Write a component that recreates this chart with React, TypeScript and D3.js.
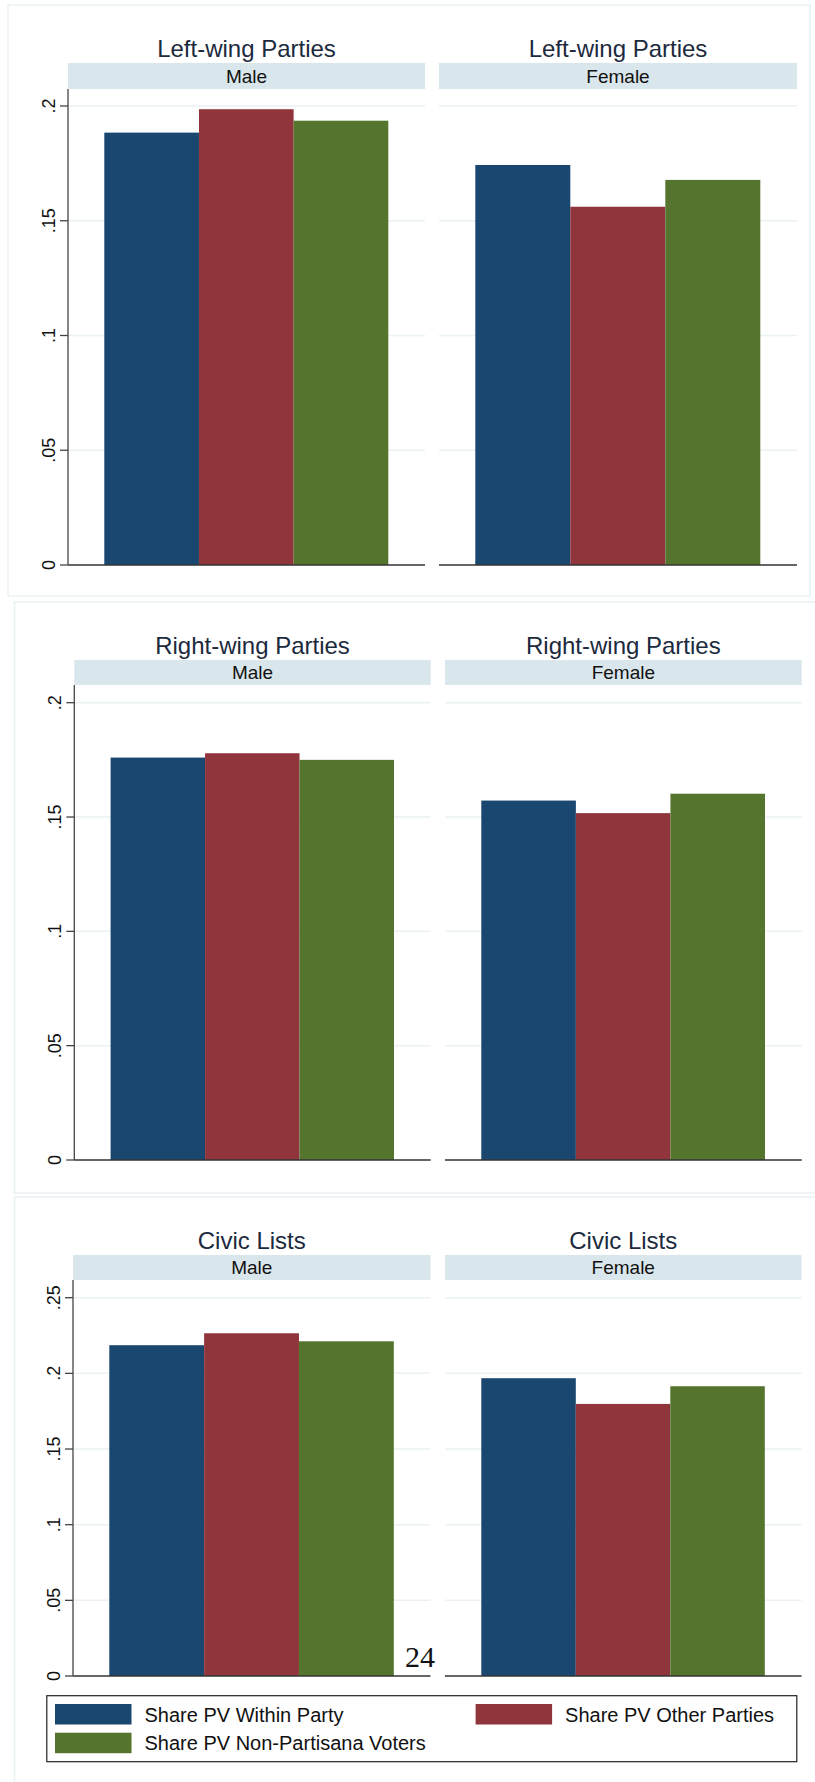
import React from "react";
import * as d3 from "d3";

// ---- data ----
const partyGroups = ["Left-wing Parties", "Right-wing Parties", "Civic Lists"];
const genders = ["Male", "Female"];
const seriesNames = [
  "Share PV Within Party",
  "Share PV Other Parties",
  "Share PV Non-Partisana Voters",
];
// order: [Left Male, Left Female, Right Male, Right Female, Civic Male, Civic Female]
const withinParty = [0.1884, 0.1743, 0.176, 0.1572, 0.2186, 0.1968];
const otherParties = [0.1986, 0.1561, 0.1779, 0.1517, 0.2265, 0.1798];
const nonPartisan = [0.1936, 0.1678, 0.175, 0.1602, 0.2212, 0.1915];
const ticksLeftRight = [0, 0.05, 0.1, 0.15, 0.2];
const ticksCivic = [0, 0.05, 0.1, 0.15, 0.2, 0.25];
const tickLabel = (v: number) => (v === 0 ? "0" : String(v).replace(/^0/, ""));

// ---- styles ----
const colors = ["#1a476f", "#90353b", "#55752f"];
const FONT = "'Liberation Sans', Arial, sans-serif";
const frameColor = "#eaf2f3";
const gridColor = "#eaf2f3";
const stripColor = "#d9e6eb";

const panels = [
  {
    frame: [8, 5, 810, 596],
    titleY: 48,
    strip: [63, 89],
    subs: [[68, 425], [439, 797]],
    scaleRef: [565, 106, 0.2],
    ticks: ticksLeftRight,
  },
  {
    frame: [14.5, 602, 817, 1193],
    titleY: 645,
    strip: [660, 685],
    subs: [[74.3, 430.7], [445, 801.7]],
    scaleRef: [1160, 702.7, 0.2],
    ticks: ticksLeftRight,
  },
  {
    frame: [14.5, 1197, 817, 1790],
    titleY: 1240,
    strip: [1255, 1280],
    subs: [[73, 430.5], [445, 801.5]],
    scaleRef: [1676, 1297.7, 0.25],
    ticks: ticksCivic,
  },
];

export default function App() {
  const seriesValues = [withinParty, otherParties, nonPartisan];
  return (
    <svg
      width={815}
      height={1782}
      style={{ position: "absolute", left: 0, top: 0, display: "block", background: "#fff" }}
    >
      {panels.map((p, pi) => {
        const [fx0, fy0, fx1, fy1] = p.frame;
        const y = d3
          .scaleLinear()
          .domain([0, p.scaleRef[2]])
          .range([p.scaleRef[0], p.scaleRef[1]]);
        const zeroY = y(0);
        return (
          <g key={pi}>
            <rect
              x={fx0}
              y={fy0}
              width={fx1 - fx0}
              height={fy1 - fy0}
              fill="#fff"
              stroke={frameColor}
              strokeWidth={1.5}
            />
            {genders.map((g, gi) => {
              const [sx0, sx1] = p.subs[gi];
              const idx = pi * 2 + gi;
              const xb = d3
                .scaleBand<string>()
                .domain(seriesNames)
                .range([sx0 + 36.3, sx1 - 36.7])
                .paddingInner(0);
              return (
                <g key={g}>
                  <text
                    x={(sx0 + sx1) / 2}
                    y={p.titleY + 8.5}
                    textAnchor="middle"
                    fontFamily={FONT}
                    fontSize={24}
                    fill="#1c2a3e"
                  >
                    {partyGroups[pi]}
                  </text>
                  <rect
                    x={sx0}
                    y={p.strip[0]}
                    width={sx1 - sx0}
                    height={p.strip[1] - p.strip[0]}
                    fill={stripColor}
                  />
                  <text
                    x={(sx0 + sx1) / 2}
                    y={(p.strip[0] + p.strip[1]) / 2 + 6.5}
                    textAnchor="middle"
                    fontFamily={FONT}
                    fontSize={19}
                    fill="#111"
                  >
                    {g}
                  </text>
                  {p.ticks
                    .filter((t) => t > 0)
                    .map((t) => (
                      <line
                        key={t}
                        x1={sx0}
                        x2={sx1}
                        y1={y(t)}
                        y2={y(t)}
                        stroke={gridColor}
                        strokeWidth={1.5}
                      />
                    ))}
                  {seriesNames.map((s, si) => {
                    const v = seriesValues[si][idx];
                    return (
                      <rect
                        key={s}
                        x={xb(s)}
                        y={y(v)}
                        width={xb.bandwidth()}
                        height={zeroY - y(v)}
                        fill={colors[si]}
                      />
                    );
                  })}
                  <line
                    x1={sx0}
                    x2={sx1}
                    y1={zeroY}
                    y2={zeroY}
                    stroke="#333"
                    strokeWidth={1.5}
                  />
                  {gi === 0 && (
                    <g>
                      <line
                        x1={sx0}
                        x2={sx0}
                        y1={p.strip[1]}
                        y2={zeroY}
                        stroke="#444"
                        strokeWidth={1.3}
                      />
                      {p.ticks.map((t) => (
                        <g key={t}>
                          <line
                            x1={sx0 - 8}
                            x2={sx0}
                            y1={y(t)}
                            y2={y(t)}
                            stroke="#444"
                            strokeWidth={1.3}
                          />
                          <text
                            transform={`translate(${sx0 - 13},${y(t)}) rotate(-90)`}
                            textAnchor="middle"
                            fontFamily={FONT}
                            fontSize={18}
                            fill="#111"
                          >
                            {tickLabel(t)}
                          </text>
                        </g>
                      ))}
                    </g>
                  )}
                </g>
              );
            })}
          </g>
        );
      })}
      {/* legend */}
      <g>
        <rect
          x={46.8}
          y={1695.7}
          width={750}
          height={66}
          fill="#fff"
          stroke="#222"
          strokeWidth={1.2}
        />
        {seriesNames.map((s, si) => {
          const col = si === 1 ? 1 : 0;
          const row = si === 2 ? 1 : 0;
          const sx = col === 0 ? 55 : 475.6;
          const sy = row === 0 ? 1704 : 1732.7;
          return (
            <g key={s}>
              <rect x={sx} y={sy} width={76.5} height={20.5} fill={colors[si]} />
              <text
                x={sx + 89.5}
                y={sy + 17.5}
                fontFamily={FONT}
                fontSize={20}
                fill="#111"
              >
                {s}
              </text>
            </g>
          );
        })}
      </g>
      <text
        x={405}
        y={1667}
        fontFamily="'Liberation Serif', 'DejaVu Serif', serif"
        fontSize={30}
        fill="#111"
      >
        24
      </text>
    </svg>
  );
}
